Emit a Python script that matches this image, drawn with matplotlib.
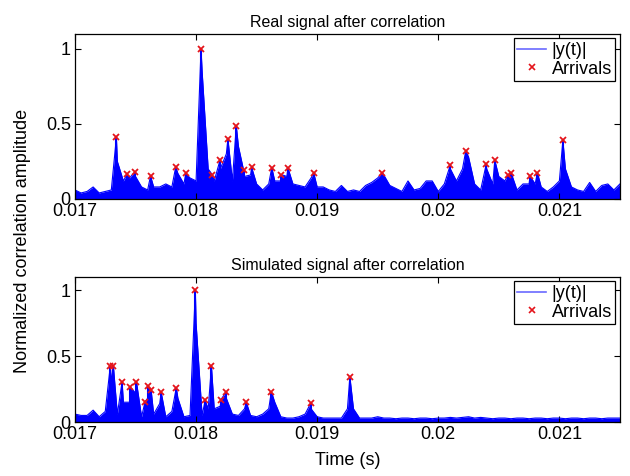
import numpy as np
import matplotlib.pyplot as plt
from matplotlib.lines import Line2D

plt.rcParams['font.family'] = ['Liberation Sans', 'DejaVu Sans']

# envelope readings of |y(t)|, one value every 50 us from 0.017 s to 0.0215 s
t_grid = np.linspace(0.017, 0.0215, 91)

real_env = [0.06, 0.04, 0.05, 0.08, 0.04, 0.05, 0.06, 0.25, 0.12, 0.14,
            0.15, 0.08, 0.06, 0.08, 0.08, 0.10, 0.08, 0.17, 0.10, 0.14,
            0.12, 0.85, 0.20, 0.12, 0.20, 0.30, 0.12, 0.35, 0.15, 0.16,
            0.10, 0.06, 0.10, 0.12, 0.12, 0.15, 0.10, 0.09, 0.08, 0.14,
            0.08, 0.08, 0.06, 0.05, 0.09, 0.05, 0.06, 0.05, 0.09, 0.11,
            0.14, 0.16, 0.09, 0.07, 0.05, 0.12, 0.06, 0.07, 0.12, 0.12,
            0.05, 0.10, 0.20, 0.12, 0.20, 0.28, 0.10, 0.06, 0.20, 0.10,
            0.15, 0.12, 0.14, 0.06, 0.10, 0.10, 0.10, 0.08, 0.05, 0.08,
            0.12, 0.20, 0.08, 0.06, 0.05, 0.11, 0.05, 0.09, 0.10, 0.06,
            0.10]

sim_env = [0.06, 0.05, 0.05, 0.09, 0.04, 0.08, 0.30, 0.06, 0.15, 0.15,
           0.22, 0.04, 0.18, 0.06, 0.14, 0.04, 0.08, 0.18, 0.04, 0.05,
           0.75, 0.05, 0.10, 0.10, 0.12, 0.18, 0.06, 0.05, 0.10, 0.05,
           0.04, 0.06, 0.10, 0.15, 0.04, 0.03, 0.03, 0.04, 0.06, 0.10,
           0.04, 0.03, 0.03, 0.03, 0.03, 0.10, 0.10, 0.03, 0.03, 0.03,
           0.04, 0.03, 0.03, 0.025, 0.03, 0.03, 0.025, 0.03, 0.03, 0.025,
           0.03, 0.03, 0.035, 0.03, 0.035, 0.04, 0.03, 0.035, 0.03, 0.025,
           0.03, 0.03, 0.025, 0.03, 0.03, 0.025, 0.03, 0.03, 0.025, 0.03,
           0.03, 0.025, 0.03, 0.03, 0.025, 0.03, 0.03, 0.025, 0.03, 0.03,
           0.03]

# detected arrivals (time in s, normalized amplitude)
real_arr_t = [0.017342, 0.017430, 0.017496, 0.017624, 0.017832, 0.017915,
              0.018041, 0.018135, 0.018199, 0.018263, 0.018332, 0.018393,
              0.018459, 0.018625, 0.018705, 0.018758, 0.018971, 0.019538,
              0.020100, 0.020227, 0.020396, 0.020467, 0.020578, 0.020603,
              0.020758, 0.020819, 0.021029]
real_arr_a = [0.41, 0.165, 0.18, 0.153, 0.213, 0.171,
              1.0, 0.16, 0.262, 0.40, 0.487, 0.19,
              0.21, 0.209, 0.162, 0.209, 0.175, 0.175,
              0.227, 0.32, 0.231, 0.258, 0.162, 0.171,
              0.153, 0.175, 0.391]

sim_arr_t = [0.017292, 0.017317, 0.017389, 0.017458, 0.017508, 0.017579,
             0.017604, 0.017629, 0.017712, 0.017837, 0.017994, 0.018075,
             0.018127, 0.018205, 0.018249, 0.018415, 0.018622, 0.018949,
             0.019270]
sim_arr_a = [0.427, 0.427, 0.303, 0.263, 0.303, 0.154,
             0.27, 0.24, 0.225, 0.26, 1.0, 0.164,
             0.422, 0.169, 0.23, 0.149, 0.23, 0.146,
             0.343]

titles = ['Real signal after correlation', 'Simulated signal after correlation']
xticks = [0.017, 0.018, 0.019, 0.020, 0.021]
xticklabels = ['0.017', '0.018', '0.019', '0.02', '0.021']
yticks = [0, 0.5, 1]
yticklabels = ['0', '0.5', '1']

fig = plt.figure(figsize=(6.3, 4.76), dpi=100)
ax1 = fig.add_axes([0.119, 0.582, 0.865, 0.347])
ax2 = fig.add_axes([0.119, 0.1134, 0.865, 0.305])

blue = '#0000ff'
red = '#e4141b'

for ax, env, at, aa, title in [(ax1, real_env, real_arr_t, real_arr_a, titles[0]),
                               (ax2, sim_env, sim_arr_t, sim_arr_a, titles[1])]:
    t = np.concatenate([t_grid, at])
    a = np.concatenate([env, aa])
    order = np.argsort(t)
    t = t[order]
    a = a[order]
    ax.fill_between(t, 0, a, color=blue, lw=0)
    ax.plot(t, a, color=blue, lw=0.8)
    ax.vlines(at, 0, aa, color=blue, lw=1.5)
    ax.plot(at, aa, 'x', color=red, ms=5, mew=1.3)

    ax.set_xlim(0.017, 0.0215)
    ax.set_ylim(0, 1.1)
    ax.set_xticks(xticks)
    ax.set_xticklabels(xticklabels)
    ax.set_yticks(yticks)
    ax.set_yticklabels(yticklabels)
    ax.tick_params(direction='in', length=4, width=0.8, top=True, right=True,
                   labelsize=13, pad=3)
    for s in ax.spines.values():
        s.set_linewidth(0.9)
    ax.set_title(title, fontsize=11.5, pad=5)

    handles = [Line2D([], [], color='#6a6aff', lw=1.2),
               Line2D([], [], ls='none', marker='x', color=red, ms=4, mew=1.2)]
    leg = ax.legend(handles, ['|y(t)|', 'Arrivals'], loc='upper right',
                    fontsize=13, fancybox=False, framealpha=1, edgecolor='black',
                    borderaxespad=0.25, handlelength=1.6, handletextpad=0.3,
                    borderpad=0.2, labelspacing=0.1)
    leg.get_frame().set_linewidth(0.9)

ax2.set_xlabel('Time (s)', fontsize=13, labelpad=6)
fig.text(0.036, 0.493, 'Normalized correlation amplitude', rotation=90,
         fontsize=13, ha='center', va='center')

fig.savefig('out.png', dpi=100)
